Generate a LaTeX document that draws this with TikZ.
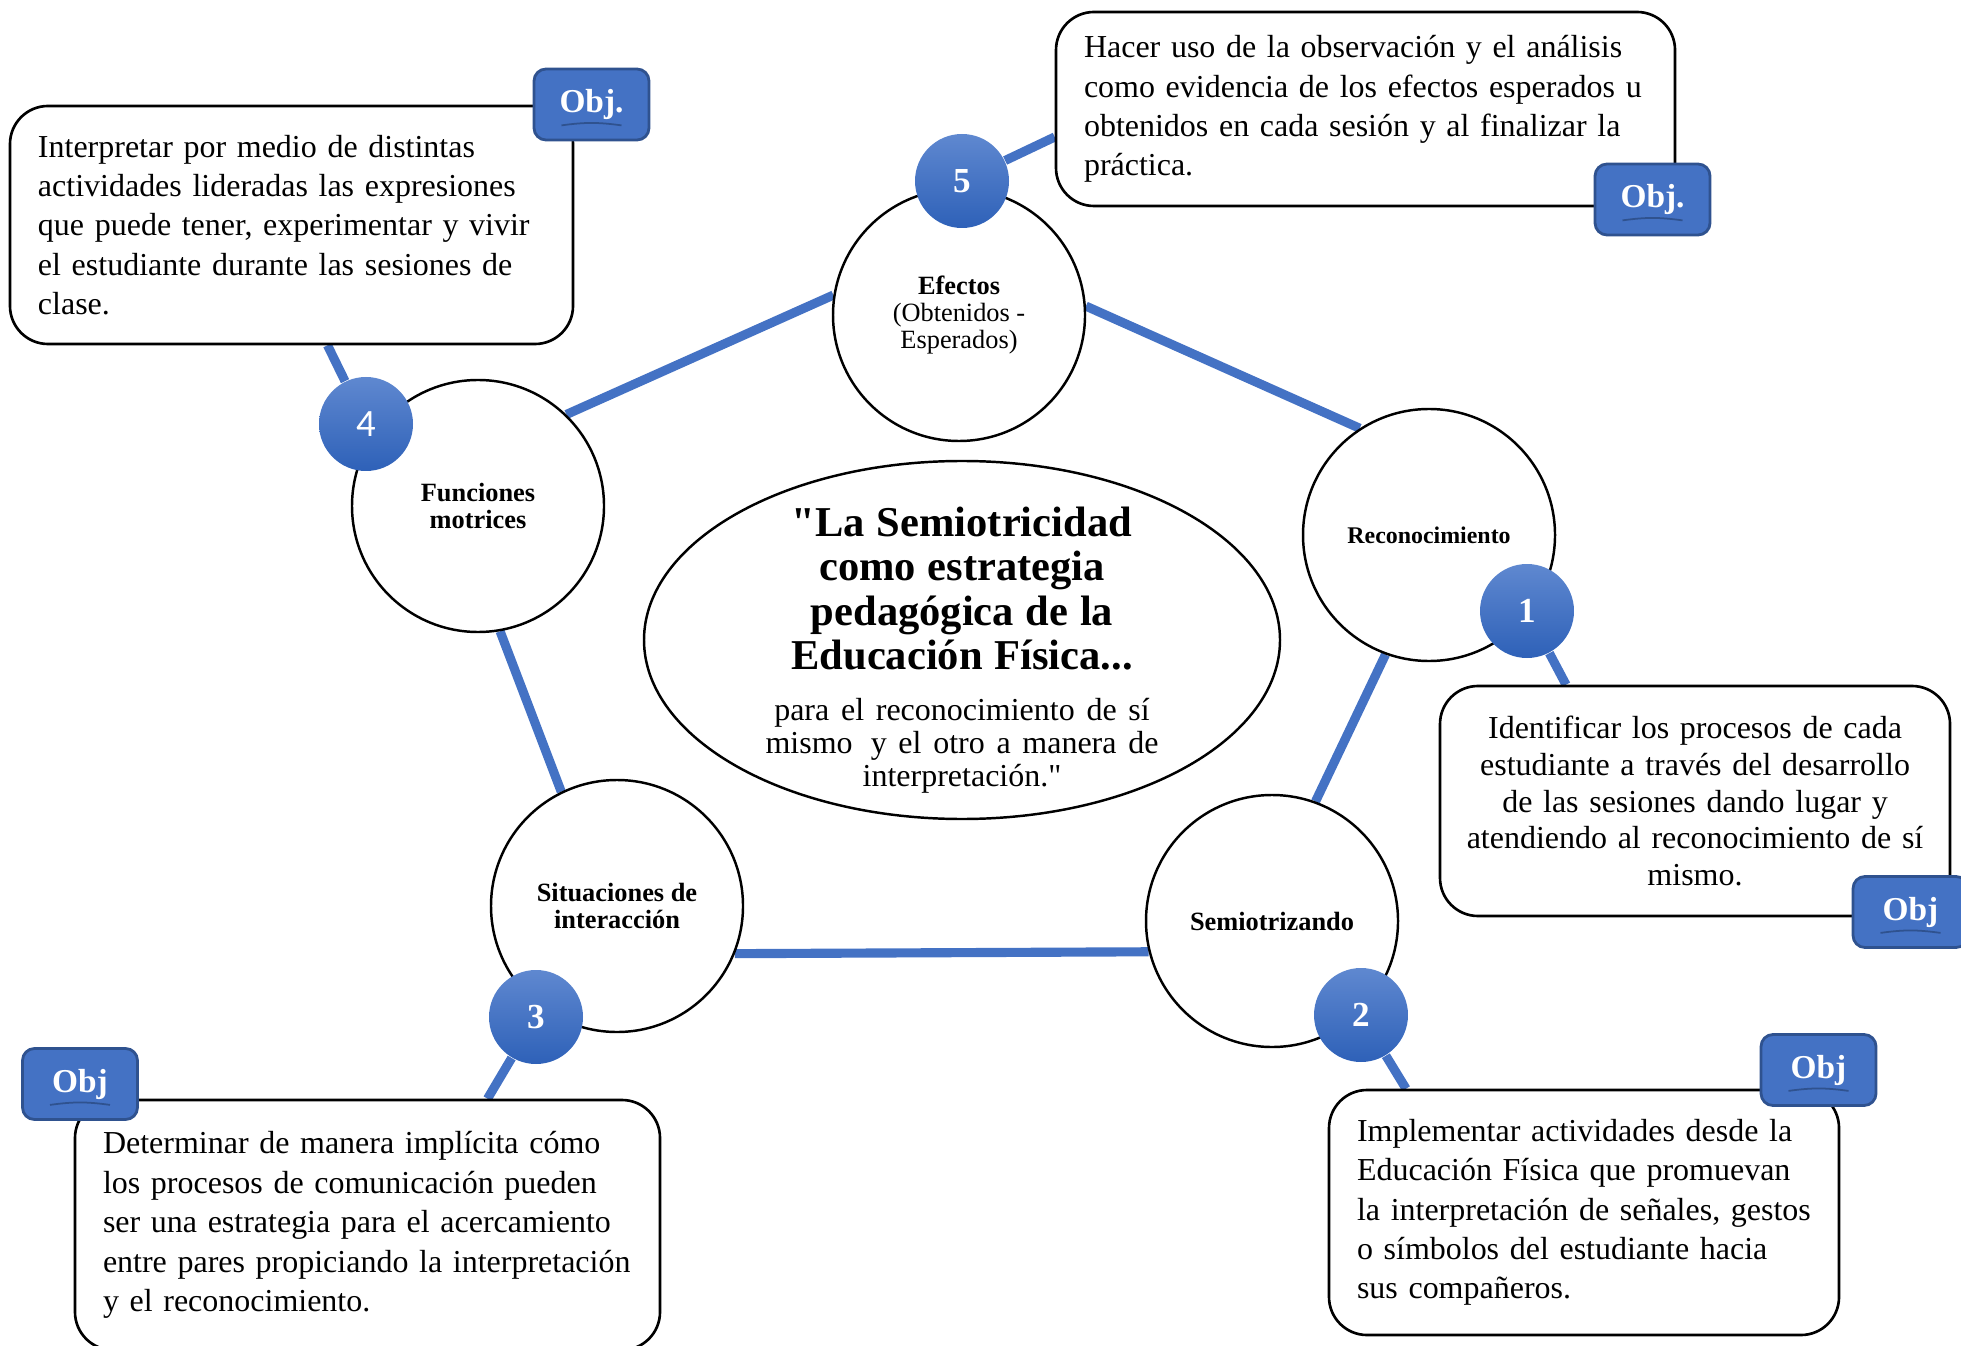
\documentclass[tikz,border=0pt]{standalone}
\usepackage{fontspec}
\setmainfont{Liberation Serif}[Ligatures=TeXOff]
\newfontfamily\numsans{Carlito}
\usetikzlibrary{shapes.geometric,backgrounds}

\definecolor{objblue}{HTML}{4472C4}
\definecolor{objedge}{HTML}{2F528F}
\definecolor{numtop}{HTML}{5F88D0}
\definecolor{numbot}{HTML}{2E61B8}

\newcommand{\coretext}{%
  {\bfseries\fontsize{12.1}{12.7}\selectfont "La Semiotricidad\\como estrategia\\pedagógica de la\\Educación Física...\par}%
  \vspace{5pt}%
  {\fontsize{9.1}{9.4}\selectfont para el reconocimiento de sí\\mismo\hspace{0.2em} y el otro a manera de\\interpretación."\par}}

\tikzset{
  stage/.style={shape=circle,draw=black,line width=0.7pt,fill=white,minimum size=2.52cm,inner sep=0pt,align=center,font=\bfseries\fontsize{7.5}{7.8}\selectfont},
  core/.style={shape=ellipse,draw=black,line width=0.7pt,fill=white,minimum width=6.36cm,minimum height=3.58cm,inner sep=0pt},
  coretxt/.style={text width=4.4cm,align=center,inner sep=0pt},
  num/.style={shape=circle,top color=numtop,bottom color=numbot,minimum size=0.94cm,inner sep=0pt,text=white,font=\bfseries\fontsize{10}{12}\selectfont},
  goal/.style={draw=black,line width=0.75pt,fill=white,rounded corners=0.38cm,inner xsep=0.28cm,inner ysep=0pt,font=\fontsize{9.1}{11.2}\selectfont},
  tag/.style={draw=objedge,line width=0.8pt,fill=objblue,rounded corners=0.12cm,minimum width=1.15cm,minimum height=0.71cm,inner sep=0pt,text=white,font=\bfseries\fontsize{9.5}{11}\selectfont},
  tagarc/.style={draw=objedge,line width=0.5pt},
  link/.style={draw=objblue,line width=2.6pt},
}

\begin{document}
\begin{tikzpicture}
  \useasboundingbox (0,0) rectangle (19.61,-13.46);
  \clip (0,0) rectangle (19.61,-13.46);

  % stages of the cycle
  \node[stage] (E) at (9.59,-3.15) {Efectos\\{\mdseries (Obtenidos -}\\{\mdseries Esperados)}};
  \node[stage] (F) at (4.78,-5.06) {Funciones\\motrices};
  \node[stage,font=\bfseries\fontsize{6.8}{7.8}\selectfont] (R) at (14.29,-5.35) {Reconocimiento};
  \node[stage] (S) at (12.72,-9.21) {Semiotrizando};
  \node[stage] (I) at (6.17,-9.06) {Situaciones de\\interacción};

  % central idea
  \node[core,label={[coretxt,yshift=-0.1cm]center:{\coretext}}] (C) at (9.62,-6.40) {};

  % objectives
  \node[goal,minimum height=2.38cm,text width=5.07cm,align=left] (B4) at (2.915,-2.25) {Interpretar por medio de distintas\\actividades lideradas las expresiones\\que puede tener, experimentar y vivir\\el estudiante durante las sesiones de\\clase.};
  \node[goal,minimum height=1.94cm,text width=5.63cm,align=left] (B5) at (13.655,-1.09) {Hacer uso de la observación y el análisis\\como evidencia de los efectos esperados u\\obtenidos en cada sesión y al finalizar la\\práctica.};
  \node[goal,minimum height=2.30cm,inner xsep=0.1cm,text width=4.9cm,align=center,font=\fontsize{9.1}{10.5}\selectfont] (B1) at (16.95,-8.01) {Identificar los procesos de cada\\estudiante a través del desarrollo\\de las sesiones dando lugar y\\atendiendo al reconocimiento de sí\\mismo.};
  \node[goal,minimum height=2.45cm,text width=4.54cm,align=left] (B2) at (15.84,-12.125) {Implementar actividades desde la\\Educación Física que promuevan\\la interpretación de señales, gestos\\o símbolos del estudiante hacia\\sus compañeros.};
  \node[goal,minimum height=2.50cm,text width=5.29cm,align=left] (B3) at (3.675,-12.25) {Determinar de manera implícita cómo\\los procesos de comunicación pueden\\ser una estrategia para el acercamiento\\entre pares propiciando la interpretación\\y el reconocimiento.};

  % tags
  \node[tag] (O4) at (5.915,-1.045) {Obj.};
  \node[tag] (O5) at (16.525,-1.995) {Obj.};
  \node[tag] (O1) at (19.105,-9.12) {Obj};
  \node[tag] (O2) at (18.185,-10.70) {Obj};
  \node[tag] (O3) at (0.80,-10.84) {Obj};
  \foreach \o in {O4,O5,O1,O2,O3}
    \draw[tagarc] ([shift={(-0.3,0.16)}]\o.south) to[bend left=8] ([shift={(0.3,0.16)}]\o.south);

  % numbers
  \node[num] (n5) at (9.62,-1.81) {5};
  \node[num,font=\numsans\fontsize{11}{12}\selectfont] (n4) at (3.66,-4.24) {4};
  \node[num] (n1) at (15.27,-6.11) {1};
  \node[num] (n2) at (13.61,-10.15) {2};
  \node[num] (n3) at (5.36,-10.17) {3};

  \begin{scope}[on background layer]
    \path[link] (F.46) edge (E.171);
    \path[link] (E.4) edge (R.123);
    \path[link] (R.250) edge (S.70);
    \path[link] (S.194) edge (I.338);
    \path[link] (I.116) edge (F.280);

    \path[link] (n5) edge ([yshift=-0.28cm]B5.west);
    \path[link] (n4) edge ([xshift=0.36cm]B4.south);
    \path[link] (n1) edge ([xshift=-1.29cm]B1.north);
    \path[link] (n2) edge ([xshift=-1.78cm]B2.north);
    \path[link] (n3) edge ([xshift=1.2cm]B3.north);
  \end{scope}
\end{tikzpicture}
\end{document}
